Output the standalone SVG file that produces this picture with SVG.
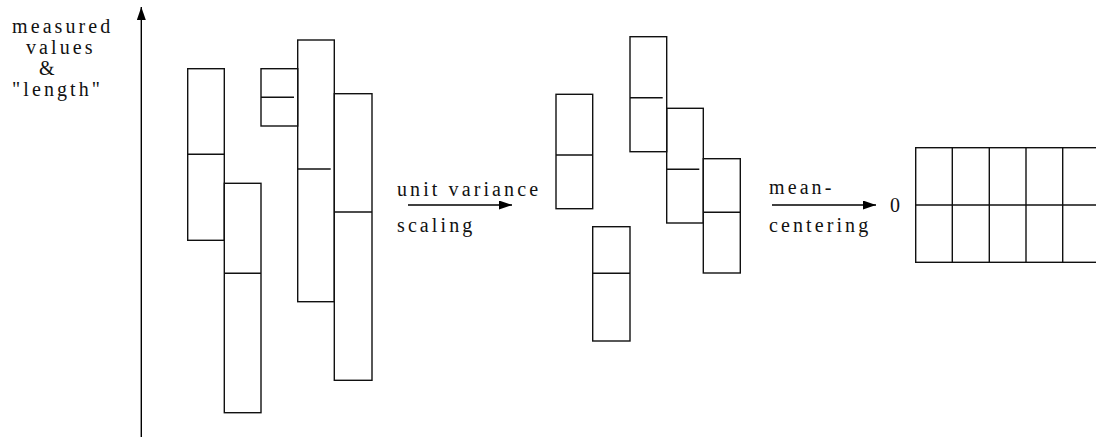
<svg xmlns="http://www.w3.org/2000/svg" width="1096" height="437" viewBox="0 0 1096 437">
<style>
.box{fill:none;stroke:#111;stroke-width:1.4}
.div{stroke:#111;stroke-width:1.4}
.con{stroke:#000;stroke-width:1.4;fill:none}
.lbl{font-family:"Liberation Serif","Times New Roman",serif;font-size:20px;fill:#111;letter-spacing:3.1px}
</style>
<defs>
<marker id="ah" markerUnits="userSpaceOnUse" viewBox="0 0 13 9" refX="13" refY="4.5" markerWidth="13" markerHeight="9" orient="auto">
<path d="M0,0 L13,4.5 L0,9 z" fill="#000"/>
</marker>
</defs>
<rect width="1096" height="437" fill="#fff"/>
<g id="axis-label">
<text class="lbl" x="12" y="33">measured</text>
<text class="lbl" x="26" y="54">values</text>
<text class="lbl" x="39" y="75">&amp;</text>
<text class="lbl" x="12" y="96">"length"</text>
</g>
<g id="raw-1"><rect class="box" x="187.7" y="68.7" width="36.6" height="171.6"/><line class="div" x1="187.7" y1="154.3" x2="224.3" y2="154.3"/></g>
<g id="raw-2"><rect class="box" x="224.3" y="183.3" width="36.7" height="229.4"/><line class="div" x1="224.3" y1="273.3" x2="261" y2="273.3"/></g>
<g id="raw-3"><rect class="box" x="261" y="68.7" width="36.7" height="57.3"/><line class="div" x1="261" y1="97.3" x2="294" y2="97.3"/></g>
<g id="raw-4"><rect class="box" x="297.7" y="40" width="36.6" height="261.7"/><line class="div" x1="297.7" y1="169" x2="330.7" y2="169"/></g>
<g id="raw-5"><rect class="box" x="334.3" y="93.7" width="37.7" height="286.6"/><line class="div" x1="334.3" y1="212" x2="372" y2="212"/></g>
<g id="uv-label">
<text class="lbl" x="397" y="196">unit variance</text>
<text class="lbl" x="397" y="232">scaling</text>
</g>
<g id="scaled-1"><rect class="box" x="556" y="94.3" width="36.7" height="114.4"/><line class="div" x1="556" y1="155" x2="592.7" y2="155"/></g>
<g id="scaled-2"><rect class="box" x="592.7" y="226.7" width="37.3" height="114.3"/><line class="div" x1="592.7" y1="273.3" x2="630" y2="273.3"/></g>
<g id="scaled-3"><rect class="box" x="630" y="36.7" width="36.7" height="115"/><line class="div" x1="630" y1="97.7" x2="662.7" y2="97.7"/></g>
<g id="scaled-4"><rect class="box" x="666.7" y="108.3" width="36.6" height="114.7"/><line class="div" x1="666.7" y1="169.3" x2="699.3" y2="169.3"/></g>
<g id="scaled-5"><rect class="box" x="703.3" y="158.7" width="37" height="114.3"/><line class="div" x1="703.3" y1="212.3" x2="740.3" y2="212.3"/></g>
<g id="mc-label">
<text class="lbl" x="769" y="194">mean-</text>
<text class="lbl" x="769" y="232">centering</text>
<text class="lbl" x="890" y="212" letter-spacing="0">0</text>
</g>
<g id="centered">
<rect class="box" x="915.7" y="147.7" width="185" height="114.6"/>
<line class="div" x1="915.7" y1="205" x2="1100" y2="205"/>
<line class="div" x1="952.3" y1="147.7" x2="952.3" y2="262.3"/>
<line class="div" x1="989.3" y1="147.7" x2="989.3" y2="262.3"/>
<line class="div" x1="1026" y1="147.7" x2="1026" y2="262.3"/>
<line class="div" x1="1062.7" y1="147.7" x2="1062.7" y2="262.3"/>
</g>
<g id="connectors">
<line class="con" x1="141.3" y1="437" x2="141.3" y2="7" marker-end="url(#ah)"/>
<line class="con" x1="408" y1="205" x2="512" y2="205" marker-end="url(#ah)"/>
<line class="con" x1="772" y1="205" x2="876" y2="205" marker-end="url(#ah)"/>
</g>
</svg>
